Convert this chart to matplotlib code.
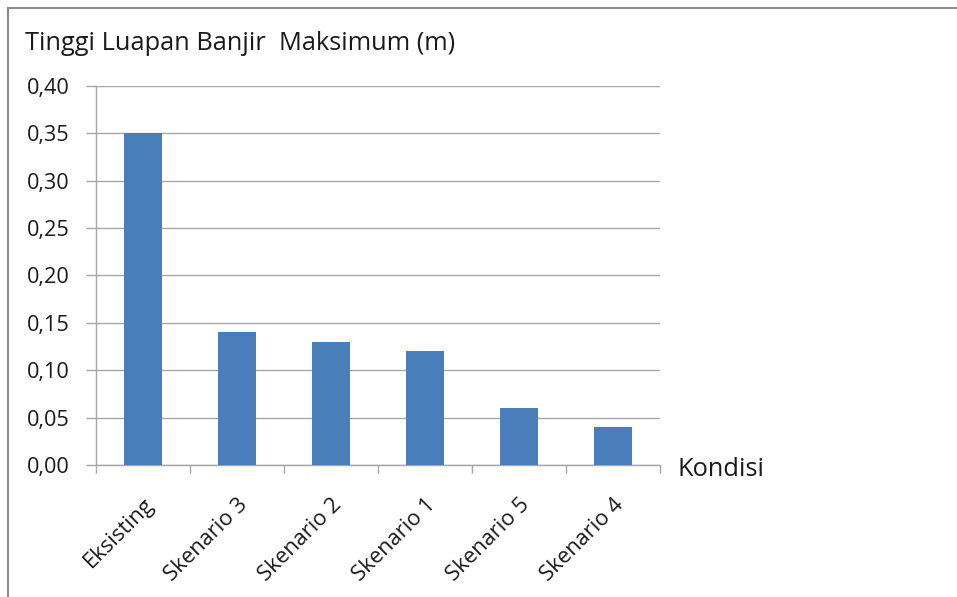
import matplotlib.pyplot as plt
from matplotlib.lines import Line2D
from matplotlib.ticker import FuncFormatter, MultipleLocator

kondisi = ["Eksisting", "Skenario 3", "Skenario 2", "Skenario 1", "Skenario 5", "Skenario 4"]
tinggi = [0.35, 0.14, 0.13, 0.12, 0.06, 0.04]

plt.rcParams['font.family'] = ['Open Sans', 'DejaVu Sans']
txt = "#1a1a1a"

fig = plt.figure(figsize=(9.57, 5.97), dpi=100)
ax = fig.add_axes([0.1003, 0.2211, 0.5893, 0.635])

x = range(len(kondisi))
ax.bar(x, tinggi, width=0.41, color="#4a7ebb", zorder=3)

ax.set_xlim(-0.5, len(kondisi) - 0.5)
ax.set_ylim(0, 0.40)
ax.yaxis.set_major_locator(MultipleLocator(0.05))
ax.yaxis.set_major_formatter(FuncFormatter(lambda v, p: f"{v:.2f}".replace(".", ",")))
ax.grid(axis="y", color="#a6a6a6", linewidth=1.0, zorder=0)

# category ticks sit between the bars
ax.set_xticks([i + 0.5 for i in range(-1, len(kondisi))], minor=False)
ax.set_xticklabels([])
ax.tick_params(axis="x", direction="out", length=6, color="#a6a6a6", width=1)
ax.set_xticks(list(x), minor=True)
ax.set_xticklabels(kondisi, minor=True, rotation=45, ha="right", va="top",
                   rotation_mode="anchor", fontsize=15.8, color=txt)
ax.tick_params(axis="x", which="minor", length=0, pad=21)
ax.tick_params(axis="y", direction="out", length=7, color="#a6a6a6", width=1,
               labelsize=15.6, labelcolor=txt, pad=12)

for side in ["top", "right"]:
    ax.spines[side].set_visible(False)
for side in ["left", "bottom"]:
    ax.spines[side].set_color("#a6a6a6")
    ax.spines[side].set_linewidth(1.0)

fig.text(25 / 957, 1 - 44 / 597, "Tinggi Luapan Banjir  Maksimum (m)",
         fontsize=18.3, color=txt, va="center", ha="left")
fig.text(678 / 957, 1 - 470 / 597, "Kondisi", fontsize=18.3, color=txt,
         va="center", ha="left")

# outer chart frame (left and top edges)
fig.add_artist(Line2D([8 / 957, 8 / 957], [0, 1 - 8 / 597], transform=fig.transFigure,
                      color="#8c8c8c", linewidth=1.5))
fig.add_artist(Line2D([8 / 957, 1], [1 - 8 / 597, 1 - 8 / 597], transform=fig.transFigure,
                      color="#8c8c8c", linewidth=1.5))

fig.savefig("out.png", dpi=100)
